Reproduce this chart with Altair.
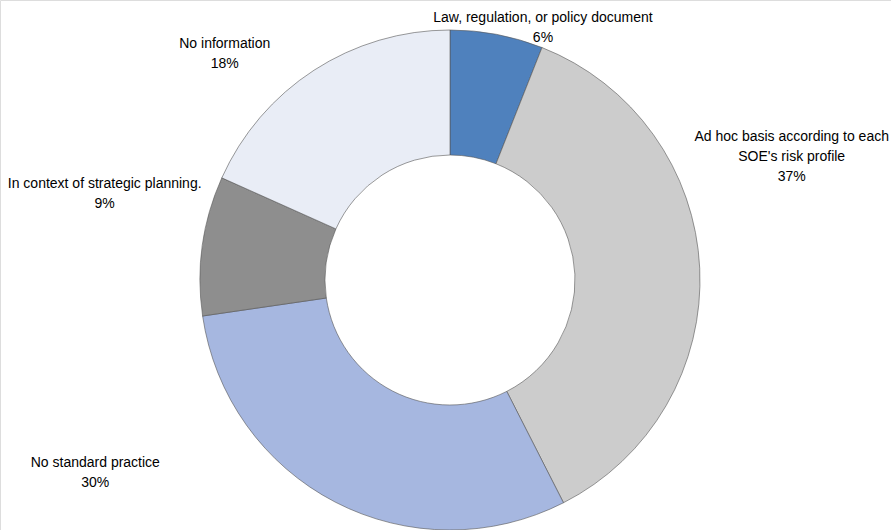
import altair as alt
import pandas as pd

categories = [
    "Law, regulation, or policy document",
    "Ad hoc basis according to each SOE's risk profile",
    "No standard practice",
    "In context of strategic planning.",
    "No information",
]
label_lines = [
    ["Law, regulation, or policy document", "6%"],
    ["Ad hoc basis according to each", "SOE's risk profile", "37%"],
    ["No standard practice", "30%"],
    ["In context of strategic planning.", "9%"],
    ["No information", "18%"],
]
values = [6.0, 36.5, 30.2, 9.0, 18.3]
colors = ["#4F81BD", "#CCCCCC", "#A6B7E0", "#8E8E8E", "#E9EDF6"]

df = pd.DataFrame({
    "category": categories,
    "value": values,
    "order": list(range(len(values))),
    "label": label_lines,
})

FONT = "Liberation Sans Narrow, Arial Narrow, Liberation Sans, sans-serif"
CX, CY = 450, 280
OUTER, INNER = 250, 125
LABEL_R = 280

base = alt.Chart(df)

arcs = base.mark_arc(
    outerRadius=OUTER, innerRadius=INNER, stroke="#555555", strokeWidth=0.6
).encode(
    theta=alt.Theta("value:Q", stack=True, scale=alt.Scale(domain=[0, 100])),
    order=alt.Order("order:Q"),
    color=alt.Color("category:N", scale=alt.Scale(domain=categories, range=colors), legend=None),
    x=alt.value(CX),
    y=alt.value(CY),
)

# label nudges (pixels) from the slice mid-angle anchor
nudges = {
    categories[0]: (40.5, 13),
    categories[1]: (62, -130),
    categories[2]: (-226, -66),
    categories[3]: (-68, -57),
    categories[4]: (-73, -1),
}

text_layers = []
for cat in categories:
    dx, dy = nudges[cat]
    t = base.transform_window(
        cum="sum(value)", sort=[alt.SortField("order")]
    ).transform_calculate(
        mid="datum.cum - datum.value / 2"
    ).transform_filter(
        alt.datum.category == cat
    ).mark_text(
        font=FONT, fontSize=14, color="#000000", align="center", baseline="middle",
        lineHeight=20, dx=dx, dy=dy,
    ).encode(
        theta=alt.Theta("mid:Q", scale=alt.Scale(domain=[0, 100])),
        radius=alt.value(LABEL_R),
        text="label",
        x=alt.value(CX),
        y=alt.value(CY),
    )
    text_layers.append(t)

chart = alt.layer(arcs, *text_layers).properties(
    width=891, height=530, padding=0, autosize=alt.AutoSizeParams(type="none")
).configure_view(stroke=None).configure(background="white")

chart.save("out.html", embed_options={"renderer": "svg", "actions": False})
